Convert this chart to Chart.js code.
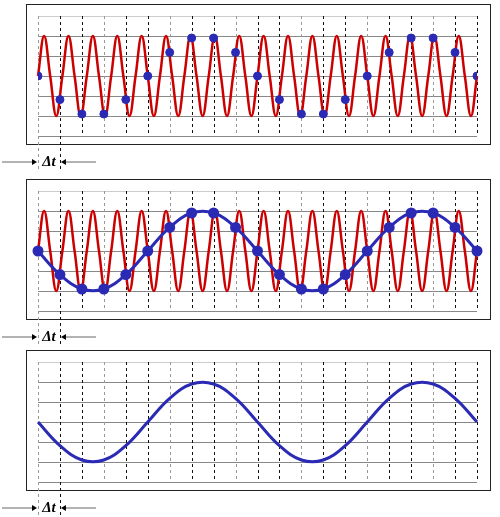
<!DOCTYPE html>
<html>
<head>
<meta charset="utf-8">
<script src="https://cdn.jsdelivr.net/npm/chart.js@4"></script>
<style>
  body { margin: 0; background: #fff; }
  .panel { position: absolute; left: 0; width: 500px; height: 172px; }
</style>
</head>
<body>
<div class="panel" style="top:0"><canvas id="c1"></canvas></div>
<div class="panel" style="top:175px"><canvas id="c2"></canvas></div>
<div class="panel" style="top:346px"><canvas id="c3"></canvas></div>
<script>
// sample index (one per Δt)
const sampleIdx = [0,1,2,3,4,5,6,7,8,9,10,11,12,13,14,15,16,17,18,19,20];
// sampled values (blue)
const sampleVals = [0,-1.18,-1.9,-1.9,-1.18,0,1.18,1.9,1.9,1.18,0,-1.18,-1.9,-1.9,-1.18,0,1.18,1.9,1.9,1.18,0];
// fast signal (red), quarter-period points
const redStep = 0.2778;
const redVals = [
  0,2,0,-2, 0,2,0,-2, 0,2,0,-2, 0,2,0,-2, 0,2,0,-2, 0,2,0,-2,
  0,2,0,-2, 0,2,0,-2, 0,2,0,-2, 0,2,0,-2, 0,2,0,-2, 0,2,0,-2,
  0,2,0,-2, 0,2,0,-2, 0,2,0,-2, 0,2,0,-2, 0,2,0,-2, 0,2,0,-2,
  0
];
const gridY = [-3,-2,-1,0,1,2,3];

const RED = '#cc0000', BLUE = '#2a2ab4';
const redData = redVals.map((v, i) => ({ x: i * redStep, y: v }));
const blueData = sampleIdx.map((k, i) => ({ x: k, y: sampleVals[i] }));

const framePlugin = {
  id: 'frame',
  beforeDatasetsDraw(chart) {
    const ctx = chart.ctx, xs = chart.scales.x, ys = chart.scales.y;
    const a = chart.chartArea;
    ctx.save();
    // outer box
    ctx.strokeStyle = '#222'; ctx.lineWidth = 1;
    ctx.strokeRect(26.5, 4.5, 464, 140);
    // horizontal grid
    gridY.forEach((g, i) => {
      const y = Math.round(ys.getPixelForValue(g)) + 0.5;
      ctx.strokeStyle = (i === gridY.length - 1) ? '#ccc' : '#888';
      ctx.beginPath(); ctx.moveTo(a.left, y); ctx.lineTo(a.right, y); ctx.stroke();
    });
    // vertical dashed grid
    ctx.setLineDash([3, 3]);
    sampleIdx.forEach((k) => {
      const x = Math.round(xs.getPixelForValue(k)) + 0.5;
      ctx.strokeStyle = k % 3 === 0 ? '#999' : '#111';
      const bottom = k <= 1 ? chart.height : a.bottom;
      ctx.beginPath(); ctx.moveTo(x, a.top); ctx.lineTo(x, bottom); ctx.stroke();
    });
    ctx.setLineDash([]);
    // Δt annotation
    const x0 = xs.getPixelForValue(0), x1 = xs.getPixelForValue(1), ay = 162;
    ctx.strokeStyle = '#666'; ctx.fillStyle = '#000';
    ctx.beginPath(); ctx.moveTo(2, ay); ctx.lineTo(x0 - 4, ay); ctx.stroke();
    ctx.beginPath(); ctx.moveTo(x1 + 36, ay); ctx.lineTo(x1 + 4, ay); ctx.stroke();
    ctx.beginPath(); ctx.moveTo(x0 - 1, ay); ctx.lineTo(x0 - 6, ay - 3); ctx.lineTo(x0 - 6, ay + 3); ctx.fill();
    ctx.beginPath(); ctx.moveTo(x1 + 1, ay); ctx.lineTo(x1 + 6, ay - 3); ctx.lineTo(x1 + 6, ay + 3); ctx.fill();
    ctx.font = 'italic bold 15px "Liberation Serif"';
    ctx.textAlign = 'center'; ctx.textBaseline = 'middle';
    ctx.fillText('Δt', (x0 + x1) / 2, ay);
    ctx.restore();
  }
};

function makeChart(id, datasets) {
  new Chart(document.getElementById(id), {
    type: 'scatter',
    data: { datasets },
    options: {
      responsive: true, maintainAspectRatio: false, animation: false,
      layout: { padding: { left: 38, right: 23, top: 16, bottom: 36 } },
      scales: {
        x: { type: 'linear', min: 0, max: 20, display: false },
        y: { min: -3, max: 3, display: false }
      },
      plugins: { legend: { display: false }, tooltip: { enabled: false } }
    },
    plugins: [framePlugin]
  });
}

const redSet = { data: redData, showLine: true, borderColor: RED, borderWidth: 2.5, pointRadius: 0, tension: 0.4, clip: false };

makeChart('c1', [
  { data: blueData, showLine: false, pointRadius: 4, backgroundColor: BLUE, borderColor: BLUE },
  redSet
]);
makeChart('c2', [
  { data: blueData, showLine: true, borderColor: BLUE, borderWidth: 3, tension: 0.4, pointRadius: 4, backgroundColor: BLUE, clip: false },
  Object.assign({}, redSet)
]);
makeChart('c3', [
  { data: blueData, showLine: true, borderColor: BLUE, borderWidth: 3, tension: 0.4, pointRadius: 0, clip: false }
]);
</script>
</body>
</html>
